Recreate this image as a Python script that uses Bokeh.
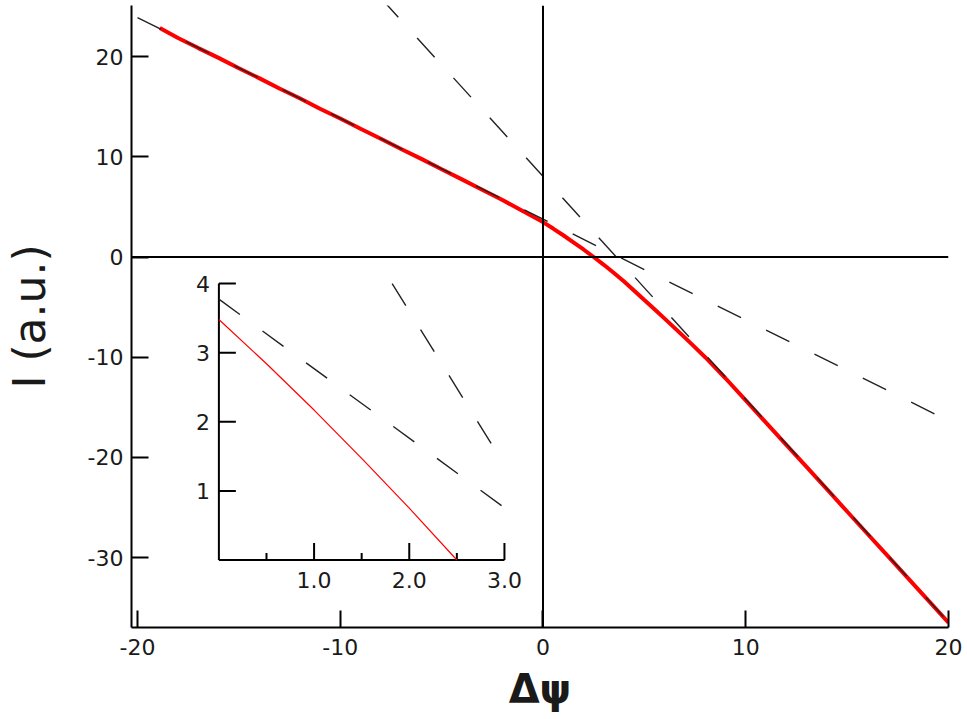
import numpy as np
from bokeh.plotting import figure
from bokeh.models import Range1d, FixedTicker, Span
from bokeh.embed import file_html
from bokeh.resources import INLINE
from bokeh.core.properties import value

# ---------------- data ----------------
red_x = [-18.9, -18, -17, -16, -15, -14, -13, -12, -11, -10, -9, -8, -7, -6, -5, -4, -3, -2, -1,
         -0.5, 0.0, 0.5, 1.0, 1.5, 2.0, 2.5, 3.0, 3.5, 4.0, 4.5, 5.0, 5.5, 6.0, 6.5, 7.0, 7.5, 8.0,
         9, 10, 11, 12, 13, 14, 15, 16, 17, 18, 19, 20]
red_y = [22.85, 21.86, 20.85, 19.87, 18.83, 17.85, 16.82, 15.84, 14.80, 13.82, 12.80, 11.80, 10.78,
         9.79, 8.76, 7.75, 6.72, 5.68, 4.60, 4.05, 3.48, 2.84, 2.17, 1.47, 0.75, 0.0, -0.78, -1.60,
         -2.45, -3.36, -4.30, -5.22, -6.15, -7.10, -8.05, -9.02, -10.00, -12.10, -14.30, -16.53,
         -18.74, -20.95, -23.17, -25.40, -27.62, -29.83, -32.05, -34.27, -36.50]

# asymptotic (dashed) lines, given by two points each
shallow_x = [-20.0, 20.0]
shallow_y = [23.895, -16.345]
steep_x = [-8.0, 20.0]
steep_y = [25.85, -36.45]

x_ticks = [-20, -10, 0, 10, 20]
y_ticks = [20, 10, 0, -10, -20, -30]

inset_x_ticks = [1.0, 2.0, 3.0]
inset_x_labels = ["1.0", "2.0", "3.0"]
inset_x_minor = [0.5, 1.5, 2.5]
inset_y_ticks = [1, 2, 3, 4]
inset_y_labels = ["1", "2", "3", "4"]
inset_xlim = [0.0, 3.0]
inset_ylim = [0.0, 4.0]

x_label = "Δψ"
y_label = "I (a.u.)"

# ---------------- layout numbers ----------------
W, H = 962, 717
FRAME_L, FRAME_R, FRAME_T, FRAME_B = 130, 948, 5, 627
FONT = "DejaVu Sans"
DASH = "26 28"

x0_px, xs = 542.0, 20.3
y0_px, ys = 256.5, 10.02
xr = Range1d((FRAME_L - x0_px) / xs, (FRAME_R - x0_px) / xs)
yr = Range1d(-(FRAME_B - y0_px) / ys, (y0_px - FRAME_T) / ys)

p = figure(width=W, height=H, x_range=xr, y_range=yr, output_backend="svg",
           toolbar_location=None, min_border_left=FRAME_L, min_border_right=W - FRAME_R,
           min_border_top=FRAME_T, min_border_bottom=H - FRAME_B)
p.outline_line_color = None
p.grid.visible = False
p.background_fill_color = "white"
p.border_fill_color = "white"

for ax, ticks in ((p.xaxis, x_ticks), (p.yaxis, y_ticks)):
    ax.ticker = FixedTicker(ticks=ticks)
    ax.major_label_overrides = {t: str(t) for t in ticks}
    ax.axis_line_width = 2
    ax.axis_line_color = "black"
    ax.major_tick_in = 17
    ax.major_tick_out = 0
    ax.major_tick_line_width = 2
    ax.major_tick_line_color = "black"
    ax.minor_tick_line_color = None
    ax.major_label_text_font = FONT
    ax.major_label_text_font_size = "22px"
    ax.major_label_text_color = "#1a1a1a"
    ax.axis_label_text_font = FONT
    ax.axis_label_text_color = "#1a1a1a"
p.xaxis.major_label_standoff = 11
p.yaxis.major_label_standoff = 8

p.yaxis.axis_label = y_label
p.yaxis.axis_label_text_font_size = "44px"
p.yaxis.axis_label_text_font_style = "normal"
p.yaxis.axis_label_standoff = 30

p.xaxis.axis_label = x_label
p.xaxis.axis_label_text_font_size = "40px"
p.xaxis.axis_label_text_font_style = "bold"
p.xaxis.axis_label_standoff = 8

# zero lines
p.add_layout(Span(location=0, dimension="width", line_color="black", line_width=2))
p.add_layout(Span(location=0, dimension="height", line_color="black", line_width=2))

# main curves
p.line(red_x, red_y, line_color="#ff0000", line_width=4)
p.line(shallow_x, shallow_y, line_color="#222222", line_width=1.4, line_dash=DASH)
p.line(steep_x, steep_y, line_color="#222222", line_width=1.4, line_dash=DASH)

# ---------------- inset (drawn through extra ranges) ----------------
ix0, ixs = 217.5, 95.3   # px of inset x=0, px/unit
iy0, iys = 559.5, 69.1   # px of inset y=0, px/unit
p.extra_x_ranges = {"ix": Range1d(-(ix0 - FRAME_L) / ixs, (FRAME_R - ix0) / ixs)}
p.extra_y_ranges = {"iy": Range1d(-(FRAME_B - iy0) / iys, (iy0 - FRAME_T) / iys)}
kw = dict(x_range_name="ix", y_range_name="iy")

p.line([inset_xlim[0], inset_xlim[1]], [inset_ylim[0], inset_ylim[0]], line_color="black", line_width=2, **kw)
p.line([inset_xlim[0], inset_xlim[0]], [inset_ylim[0], inset_ylim[1]], line_color="black", line_width=2, **kw)
tl = 17.0
p.segment(x0=inset_x_ticks, y0=[inset_ylim[0]] * len(inset_x_ticks), x1=inset_x_ticks,
          y1=[inset_ylim[0] + tl / iys] * len(inset_x_ticks), line_color="black", line_width=2, **kw)
p.segment(x0=inset_x_minor, y0=[inset_ylim[0]] * len(inset_x_minor), x1=inset_x_minor,
          y1=[inset_ylim[0] + 7.0 / iys] * len(inset_x_minor), line_color="black", line_width=2, **kw)
p.segment(x0=[inset_xlim[0]] * len(inset_y_ticks), y0=inset_y_ticks,
          x1=[inset_xlim[0] + tl / ixs] * len(inset_y_ticks), y1=inset_y_ticks,
          line_color="black", line_width=2, **kw)
p.text(x=inset_x_ticks, y=[inset_ylim[0]] * len(inset_x_ticks), text=inset_x_labels,
       text_align="center", text_baseline="top", y_offset=12, text_font=value(FONT),
       text_font_size="22px", text_color="#1a1a1a", **kw)
p.text(x=[inset_xlim[0]] * len(inset_y_ticks), y=inset_y_ticks, text=inset_y_labels,
       text_align="right", text_baseline="middle", x_offset=-9, text_font=value(FONT),
       text_font_size="22px", text_color="#1a1a1a", **kw)

rx = np.array(red_x)
ry = np.array(red_y)
m = (rx >= inset_xlim[0]) & (rx <= inset_xlim[1]) & (ry >= inset_ylim[0]) & (ry <= inset_ylim[1])
p.line(rx[m], ry[m], line_color="#ff0000", line_width=1.2, **kw)

sl = (shallow_y[1] - shallow_y[0]) / (shallow_x[1] - shallow_x[0])
si = shallow_y[0] - sl * shallow_x[0]
p.line([inset_xlim[0], inset_xlim[1]], [si + sl * inset_xlim[0], si + sl * inset_xlim[1]],
       line_color="#222222", line_width=1.4, line_dash=DASH, **kw)

tl_s = (steep_y[1] - steep_y[0]) / (steep_x[1] - steep_x[0])
ti = steep_y[0] - tl_s * steep_x[0]
xs_top = (inset_ylim[1] - ti) / tl_s
p.line([xs_top, inset_xlim[1]], [inset_ylim[1], ti + tl_s * inset_xlim[1]],
       line_color="#222222", line_width=1.4, line_dash=DASH, **kw)

open("out.html", "w").write(file_html(p, INLINE))
